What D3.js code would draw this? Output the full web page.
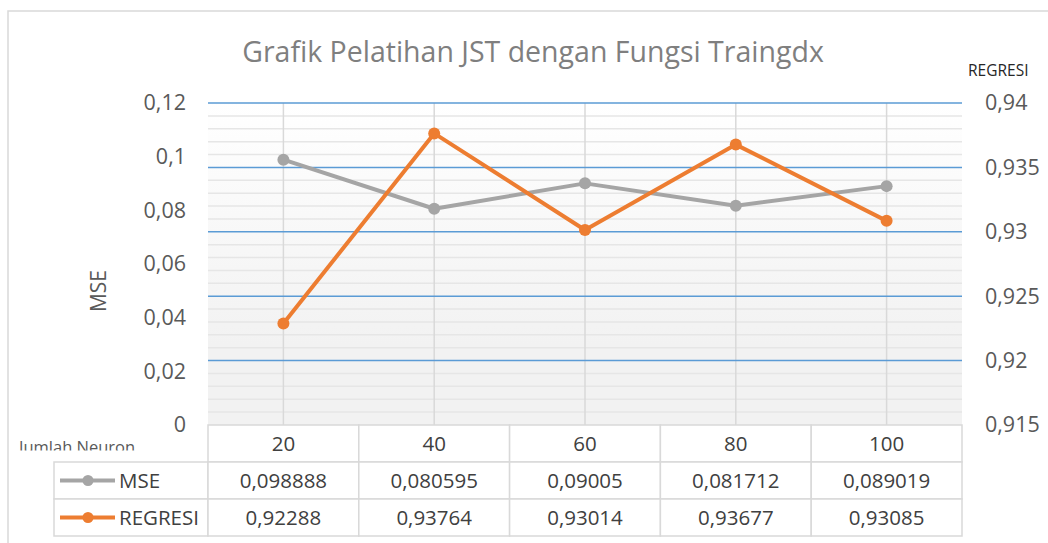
<!DOCTYPE html>
<html>
<head>
<meta charset="utf-8">
<script src="https://cdn.jsdelivr.net/npm/d3@7"></script>
<style>
  body { margin: 0; background: #fff; }
  svg { display: block; font-family: "Open Sans", sans-serif; }
</style>
</head>
<body>
<div id="chart"></div>
<script>
const categories = ["20", "40", "60", "80", "100"];
const mseValues = [0.098888, 0.080595, 0.09005, 0.081712, 0.089019];
const regresiValues = [0.92288, 0.93764, 0.93014, 0.93677, 0.93085];
const leftTicks = [0, 0.02, 0.04, 0.06, 0.08, 0.1, 0.12];
const rightTicks = [0.915, 0.92, 0.925, 0.93, 0.935, 0.94];

const W = 1048, H = 543;
const plot = {left: 208, right: 962, top: 103, bottom: 425};
const rowH = 37;

const svg = d3.select("#chart").append("svg")
  .attr("width", W)
  .attr("height", H);

// comma as decimal separator
const fmt = v => String(+v.toFixed(6)).replace(".", ",");

const x = d3.scaleBand().domain(categories).range([plot.left, plot.right]);
const yLeft = d3.scaleLinear().domain([0, 0.12]).range([plot.bottom, plot.top]);
const yRight = d3.scaleLinear().domain([0.915, 0.94]).range([plot.bottom, plot.top]);

// Chart border
svg.append("rect")
  .attr("x", 8).attr("y", 11)
  .attr("width", W + 20).attr("height", H + 20)
  .attr("fill", "#fff")
  .attr("stroke", "#d9d9d9")
  .attr("stroke-width", 1.5);

// Plot background gradient
const defs = svg.append("defs");
const grad = defs.append("linearGradient")
  .attr("id", "bg").attr("x1", 0).attr("y1", 0).attr("x2", 0).attr("y2", 1);
grad.append("stop").attr("offset", "0%").attr("stop-color", "#ffffff");
grad.append("stop").attr("offset", "75%").attr("stop-color", "#f2f2f2");
grad.append("stop").attr("offset", "100%").attr("stop-color", "#f2f2f2");

svg.append("rect")
  .attr("x", plot.left).attr("y", plot.top)
  .attr("width", plot.right - plot.left)
  .attr("height", plot.bottom - plot.top)
  .attr("fill", "url(#bg)");

// Minor gridlines (right axis, every 0.001)
const minor = d3.range(0.916, 0.9401, 0.001).filter(v => Math.round(v * 1000) % 5 !== 0);
svg.append("g").selectAll("line")
  .data(minor)
  .join("line")
    .attr("x1", plot.left).attr("x2", plot.right)
    .attr("y1", d => yRight(d)).attr("y2", d => yRight(d))
    .attr("stroke", "#e6e6e6")
    .attr("stroke-width", 1.5);

// Vertical gridlines at categories
svg.append("g").selectAll("line")
  .data(categories)
  .join("line")
    .attr("x1", d => x(d) + x.bandwidth() / 2)
    .attr("x2", d => x(d) + x.bandwidth() / 2)
    .attr("y1", plot.top).attr("y2", plot.bottom)
    .attr("stroke", "#d9d9d9")
    .attr("stroke-width", 1.5);

// Major gridlines (right axis)
svg.append("g").selectAll("line")
  .data(rightTicks.slice(1))
  .join("line")
    .attr("x1", plot.left).attr("x2", plot.right)
    .attr("y1", d => yRight(d)).attr("y2", d => yRight(d))
    .attr("stroke", "#5b9bd5")
    .attr("stroke-width", 1.5);

// Axes
const leftAxis = svg.append("g")
  .attr("transform", `translate(${plot.left - 22},0)`)
  .call(d3.axisLeft(yLeft).tickValues(leftTicks).tickFormat(fmt).tickSize(0));
const rightAxis = svg.append("g")
  .attr("transform", `translate(${plot.right + 23},0)`)
  .call(d3.axisRight(yRight).tickValues(rightTicks).tickFormat(fmt).tickSize(0));
[leftAxis, rightAxis].forEach(a => {
  a.select(".domain").remove();
  a.selectAll("text")
    .attr("x", 0)
    .attr("fill", "#595959")
    .style("font-size", "21.5px")
    .style("font-family", "'Open Sans', sans-serif");
});

// Title & axis titles
svg.append("text")
  .attr("x", 533).attr("y", 62)
  .attr("text-anchor", "middle")
  .attr("fill", "#7f7f7f")
  .style("font-size", "28.5px")
  .text("Grafik Pelatihan JST dengan Fungsi Traingdx");

svg.append("text")
  .attr("x", 968).attr("y", 76)
  .attr("fill", "#262626")
  .style("font-size", "15.5px")
  .text("REGRESI");

svg.append("text")
  .attr("transform", "translate(106,291) rotate(-90)")
  .attr("text-anchor", "middle")
  .attr("fill", "#595959")
  .style("font-size", "21px")
  .text("MSE");

defs.append("clipPath").attr("id", "clipJN")
  .append("rect").attr("x", 0).attr("y", 420).attr("width", 200).attr("height", 30.5);
svg.append("text")
  .attr("x", 19).attr("y", 453)
  .attr("clip-path", "url(#clipJN)")
  .attr("fill", "#595959")
  .style("font-size", "16.5px")
  .text("Jumlah Neuron");

// Lines
const series = [
  {name: "MSE", values: mseValues, y: yLeft, color: "#a5a5a5"},
  {name: "REGRESI", values: regresiValues, y: yRight, color: "#ed7d31"}
];

series.forEach(s => {
  const line = d3.line()
    .x((d, i) => x(categories[i]) + x.bandwidth() / 2)
    .y(d => s.y(d));
  svg.append("path")
    .datum(s.values)
    .attr("fill", "none")
    .attr("stroke", s.color)
    .attr("stroke-width", 4)
    .attr("stroke-linejoin", "round")
    .attr("d", line);
  svg.append("g").selectAll("circle")
    .data(s.values)
    .join("circle")
      .attr("cx", (d, i) => x(categories[i]) + x.bandwidth() / 2)
      .attr("cy", d => s.y(d))
      .attr("r", 6)
      .attr("fill", s.color);
});

// Data table
const table = svg.append("g");
const tableLeft = 54;
const cellStroke = "#d9d9d9";

// header row
table.selectAll(".hdr")
  .data(categories)
  .join("rect")
    .attr("x", d => x(d)).attr("y", plot.bottom)
    .attr("width", x.bandwidth()).attr("height", rowH)
    .attr("fill", "#fff")
    .attr("stroke", cellStroke).attr("stroke-width", 1.5);
table.selectAll(".hdrText")
  .data(categories)
  .join("text")
    .attr("x", d => x(d) + x.bandwidth() / 2)
    .attr("y", plot.bottom + rowH / 2 + 7)
    .attr("text-anchor", "middle")
    .attr("fill", "#404040")
    .style("font-size", "20.5px")
    .text(d => d);

series.forEach((s, r) => {
  const y0 = plot.bottom + rowH * (r + 1);
  table.append("rect")
    .attr("x", tableLeft).attr("y", y0)
    .attr("width", plot.left - tableLeft).attr("height", rowH)
    .attr("fill", "#fff")
    .attr("stroke", cellStroke).attr("stroke-width", 1.5);
  table.append("line")
    .attr("x1", tableLeft + 6).attr("x2", tableLeft + 61)
    .attr("y1", y0 + rowH / 2).attr("y2", y0 + rowH / 2)
    .attr("stroke", s.color).attr("stroke-width", 4);
  table.append("circle")
    .attr("cx", tableLeft + 34).attr("cy", y0 + rowH / 2)
    .attr("r", 5.5).attr("fill", s.color);
  table.append("text")
    .attr("x", tableLeft + 65).attr("y", y0 + rowH / 2 + 7)
    .attr("fill", "#404040")
    .style("font-size", "20.5px")
    .text(s.name);

  table.append("g").selectAll("rect")
    .data(categories)
    .join("rect")
      .attr("x", d => x(d)).attr("y", y0)
      .attr("width", x.bandwidth()).attr("height", rowH)
      .attr("fill", "#fff")
      .attr("stroke", cellStroke).attr("stroke-width", 1.5);
  table.append("g").selectAll("text")
    .data(s.values)
    .join("text")
      .attr("x", (d, i) => x(categories[i]) + x.bandwidth() / 2)
      .attr("y", y0 + rowH / 2 + 7)
      .attr("text-anchor", "middle")
      .attr("fill", "#404040")
      .style("font-size", "20.5px")
      .text(d => fmt(d));
});
</script>
</body>
</html>
